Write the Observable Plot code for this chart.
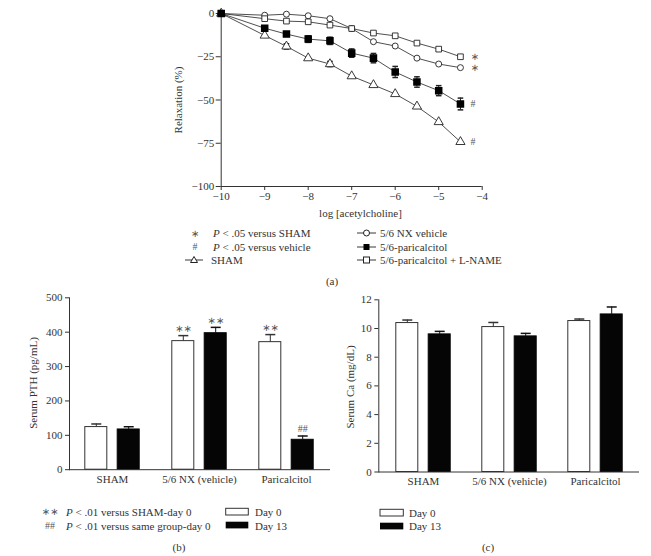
<!DOCTYPE html>
<html><head><meta charset="utf-8">
<script src="https://cdn.jsdelivr.net/npm/d3@7"></script>
<script src="https://cdn.jsdelivr.net/npm/@observablehq/plot@0.6"></script>
<style>
body{margin:0;background:#fff;}
#wrap{position:relative;width:651px;height:556px;font-family:"Liberation Serif","Times New Roman",serif;color:#333;overflow:hidden;}
#wrap svg.plot{position:absolute;left:0;top:0;overflow:visible;}
.t{position:absolute;font-size:11px;white-space:nowrap;line-height:1;}
.s{color:#555;font-size:10px;font-family:"DejaVu Sans",sans-serif;}
.h{color:#555;font-size:10px;}
</style></head><body><div id="wrap"></div>
<script>
// ---------- Panel (a) data ----------
const logACh = [-10, -9, -8.5, -8, -7.5, -7, -6.5, -6, -5.5, -5, -4.5];
const nxVehicle = [0, -1, -0.4, -1.3, -3, -8.7, -16.3, -18.8, -25.8, -29.2, -31.3];
const paricalcitol = [0, -8.5, -11.9, -14.8, -15.8, -22.9, -25.8, -33.8, -39.6, -44.6, -52.3];
const paricalcitolErr = [0, 1.2, 1.2, 1.9, 2.1, 2.4, 2.7, 3.2, 3.0, 2.9, 3.4];
const paricalcitolLName = [0, -3, -4.4, -4.8, -6.7, -8.7, -11.3, -12.9, -17.1, -20.6, -25];
const sham = [0, -12.7, -19, -25.8, -29.2, -36.2, -41.3, -46.5, -53.7, -62.7, -74.2];
const shamErr = [0, 0, 1.5, 0, 1.5, 0, 0, 0, 0, 0, 0];
const xTicksA = [-10, -9, -8, -7, -6, -5, -4];
const yTicksA = [0, -25, -50, -75, -100];
const seriesNames = ["SHAM", "5/6 NX vehicle", "5/6-paricalcitol", "5/6-paricalcitol + L-NAME"];
const seriesSig = ["#", "∗", "#", "∗"];

// ---------- Panels (b),(c) data ----------
const groups = ["SHAM", "5/6 NX (vehicle)", "Paricalcitol"];
const days = ["Day 0", "Day 13"];
const pthDay0 = [124, 374, 371];
const pthDay0Err = [9, 16, 22];
const pthDay13 = [117, 397, 87];
const pthDay13Err = [8, 17, 11];
const pthSigDay0 = ["", "∗∗", "∗∗"];
const pthSigDay13 = ["", "∗∗", "##"];
const yTicksB = [0, 100, 200, 300, 400, 500];
const caDay0 = [10.38, 10.1, 10.52];
const caDay0Err = [0.21, 0.32, 0.14];
const caDay13 = [9.59, 9.45, 10.98];
const caDay13Err = [0.21, 0.21, 0.52];
const yTicksC = [0, 2, 4, 6, 8, 10, 12];

const W = 651, H = 556;
const INK = "#333";
const FONT = "Liberation Serif, Times New Roman, serif";
const SIGFONT = "DejaVu Sans, sans-serif";
const minusFmt = d => d < 0 ? "\u2212" + Math.abs(d) : String(d);
const cap = {draw(ctx, size) { const r = Math.sqrt(size / Math.PI); ctx.moveTo(-r, 0); ctx.lineTo(r, 0); }};
const isStar = d => d.sig.includes("∗");
const isHash = d => d.sig.includes("#");
const wrap = document.getElementById("wrap");
function add(svg) { svg.classList.add("plot"); wrap.appendChild(svg); }

// ---------- Panel (a) ----------
const valsA = [sham, nxVehicle, paricalcitol, paricalcitolLName];
const errsA = [shamErr, null, paricalcitolErr, null];
const rowsA = valsA.flatMap((vals, s) => logACh.map((x, i) => ({series: seriesNames[s], x, y: vals[i], err: errsA[s] ? errsA[s][i] : 0})));
const errRowsA = rowsA.filter(d => d.err > 0);
const lastA = seriesNames.map((n, s) => ({x: logACh[logACh.length - 1], y: valsA[s][valsA[s].length - 1], sig: seriesSig[s]}));
const bySeries = n => rowsA.filter(d => d.series === n);

add(Plot.plot({
  width: W, height: H,
  marginLeft: 220.7, marginRight: W - 481.7, marginTop: 13, marginBottom: H - 186,
  style: {fontFamily: FONT, fontSize: "11px", color: INK, background: "transparent", overflow: "visible"},
  x: {domain: [-10, -4]},
  y: {domain: [-100, 0]},
  marks: [
    Plot.ruleX([-10], {stroke: INK}),
    Plot.ruleY([-100], {stroke: INK}),
    Plot.axisY({ticks: yTicksA, tickSize: 5, tickPadding: 2, tickFormat: minusFmt, label: null, stroke: INK, fill: INK}),
    Plot.axisX({ticks: xTicksA, tickSize: 4, tickPadding: 2, tickFormat: minusFmt, label: null, stroke: INK, fill: INK}),
    Plot.line(rowsA, {x: "x", y: "y", z: "series", stroke: "#222", strokeWidth: 0.8}),
    Plot.ruleX(errRowsA, {x: "x", y1: d => d.y - d.err, y2: d => d.y + d.err, stroke: "#222"}),
    Plot.dot(errRowsA, {x: "x", y: d => d.y + d.err, symbol: cap, r: 2.8, stroke: "#222", fill: "none"}),
    Plot.dot(errRowsA, {x: "x", y: d => d.y - d.err, symbol: cap, r: 2.8, stroke: "#222", fill: "none"}),
    Plot.dot(bySeries(seriesNames[0]), {x: "x", y: "y", symbol: "triangle", r: 3.4, stroke: "#222", fill: "white", strokeWidth: 0.9}),
    Plot.dot(bySeries(seriesNames[1]), {x: "x", y: "y", symbol: "circle", r: 3, stroke: "#222", fill: "white", strokeWidth: 0.9}),
    Plot.dot(bySeries(seriesNames[3]), {x: "x", y: "y", symbol: "square", r: 3.2, stroke: "#222", fill: "white", strokeWidth: 0.9}),
    Plot.dot(bySeries(seriesNames[2]), {x: "x", y: "y", symbol: "square", r: 3.4, stroke: "#000", fill: "#000"}),
    Plot.text(lastA.filter(isStar), {x: "x", y: "y", text: "sig", dx: 10, textAnchor: "start", fill: "#555", fontSize: 10, fontFamily: SIGFONT}),
    Plot.text(lastA.filter(isHash), {x: "x", y: "y", text: "sig", dx: 10, textAnchor: "start", fill: "#555", fontSize: 10})
  ]
}));

// ---------- Bar panels ----------
function barPanel(d0, e0, d13, e13, ticks, ymax, left, right, top, bottom, sig0, sig13) {
  const r0 = groups.map((g, i) => ({group: g, value: d0[i], err: e0[i], sig: sig0 ? sig0[i] : "", off: -16.2}));
  const r13 = groups.map((g, i) => ({group: g, value: d13[i], err: e13[i], sig: sig13 ? sig13[i] : "", off: 16.2}));
  const off = 16.2;
  const marks = [
    Plot.barY(r0, {x: "group", y: "value", dx: -off, fill: "white", stroke: INK, strokeWidth: 1}),
    Plot.barY(r13, {x: "group", y: "value", dx: off, fill: "#050505", stroke: "#050505"}),
    Plot.ruleX(r0, {x: "group", y1: "value", y2: d => d.value + d.err, dx: -off, stroke: INK}),
    Plot.ruleX(r13, {x: "group", y1: "value", y2: d => d.value + d.err, dx: off, stroke: "#111"}),
    Plot.dot(r0, {x: "group", y: d => d.value + d.err, dx: -off, symbol: cap, r: 5, stroke: INK, fill: "none"}),
    Plot.dot(r13, {x: "group", y: d => d.value + d.err, dx: off, symbol: cap, r: 5, stroke: "#111", fill: "none"}),
    Plot.ruleY([0], {stroke: INK}),
    Plot.frame({anchor: "left", stroke: INK}),
    Plot.axisY({ticks, tickSize: 4, tickPadding: 3, label: null, stroke: INK, fill: INK}),
    Plot.axisX({tickSize: 0, tickPadding: 5, label: null, fill: INK})
  ];
  if (sig0) {
    for (const [rows, o] of [[r0, -off], [r13, off]]) {
      marks.push(Plot.text(rows.filter(isStar), {x: "group", y: d => d.value + d.err, dy: -7, dx: o, text: "sig", fill: "#555", fontSize: 10, fontFamily: SIGFONT}));
      marks.push(Plot.text(rows.filter(isHash), {x: "group", y: d => d.value + d.err, dy: -7, dx: o, text: "sig", fill: "#555", fontSize: 10}));
    }
  }
  return Plot.plot({
    width: W, height: H,
    marginLeft: left, marginRight: W - right, marginTop: top, marginBottom: H - bottom,
    style: {fontFamily: FONT, fontSize: "11px", color: INK, background: "transparent", overflow: "visible"},
    x: {type: "band", domain: groups, paddingInner: 0.745, paddingOuter: 0.3725},
    y: {domain: [0, ymax]},
    marks
  });
}
add(barPanel(pthDay0, pthDay0Err, pthDay13, pthDay13Err, yTicksB, 500, 69, 330, 297.3, 469.2, pthSigDay0, pthSigDay13));
add(barPanel(caDay0, caDay0Err, caDay13, caDay13Err, yTicksC, 12, 378.3, 639, 299.3, 471.5, null, null));

// ---------- Text & legends ----------
function txt(html, x, y, anchor = "start", cls = "") {
  const d = document.createElement("div");
  d.className = "t " + cls;
  d.innerHTML = html;
  const tx = anchor === "middle" ? "-50%" : anchor === "end" ? "-100%" : "0";
  d.style.cssText = `left:${x}px;top:${y}px;transform:translate(${tx},-50%);`;
  wrap.appendChild(d);
  return d;
}
function rot(str, x, y) {
  const d = document.createElement("div");
  d.className = "t";
  d.textContent = str;
  d.style.cssText = `left:${x}px;top:${y}px;transform:translate(-50%,-50%) rotate(-90deg);`;
  wrap.appendChild(d);
}
txt("log [acetylcholine]", 360.5, 213, "middle");
rot("Relaxation (%)", 178, 100);
rot("Serum PTH (pg/mL)", 33, 383);
rot("Serum Ca (mg/dL)", 350, 387);

// legend (a)
txt("∗", 195, 234, "middle", "s");
txt("<i>P</i> &lt; .05 versus SHAM", 213, 233);
txt("#", 195, 247, "middle", "h");
txt("<i>P</i> &lt; .05 versus vehicle", 213, 247);
txt(seriesNames[0], 211, 260);
txt(seriesNames[1], 380, 233);
txt(seriesNames[2], 380, 247);
txt(seriesNames[3], 380, 260);
txt("(a)", 332, 281, "middle");

// legend symbols
const ns = "http://www.w3.org/2000/svg";
const leg = document.createElementNS(ns, "svg");
leg.setAttribute("width", W); leg.setAttribute("height", H);
leg.style.cssText = "position:absolute;left:0;top:0;";
function el(tag, attrs) { const e = document.createElementNS(ns, tag); for (const k in attrs) e.setAttribute(k, attrs[k]); leg.appendChild(e); return e; }
function legLine(x0, x1, y) { el("line", {x1: x0, x2: x1, y1: y, y2: y, stroke: "#222", "stroke-width": 0.9}); }
legLine(185, 203, 260); el("path", {d: "M194,256.5L197.5,262.5L190.5,262.5Z", fill: "white", stroke: "#222"});
legLine(357, 376, 233); el("circle", {cx: 366.5, cy: 233, r: 3, fill: "white", stroke: "#222"});
legLine(357, 376, 247); el("rect", {x: 363.5, y: 244, width: 6, height: 6, fill: "#000"});
legLine(357, 376, 260); el("rect", {x: 363.5, y: 257, width: 6, height: 6, fill: "white", stroke: "#222"});
el("rect", {x: 225.7, y: 508.3, width: 22.6, height: 6.7, fill: "white", stroke: INK});
el("rect", {x: 225.7, y: 521.7, width: 22.6, height: 6.7, fill: "#050505"});
el("rect", {x: 380, y: 509.3, width: 23.3, height: 6.7, fill: "white", stroke: INK});
el("rect", {x: 380, y: 522.7, width: 23.3, height: 6.7, fill: "#050505"});
wrap.appendChild(leg);

// legend (b)
txt("∗∗", 50, 512, "middle", "s");
txt("<i>P</i> &lt; .01 versus SHAM-day 0", 66, 511.7);
txt("##", 50, 525.7, "middle", "h");
txt("<i>P</i> &lt; .01 versus same group-day 0", 66, 525.7);
txt(days[0], 255, 511.7);
txt(days[1], 255, 525.5);
txt("(b)", 179, 547, "middle");
// legend (c)
txt(days[0], 409, 512.5);
txt(days[1], 409, 526);
txt("(c)", 488, 547, "middle");
</script></body></html>
